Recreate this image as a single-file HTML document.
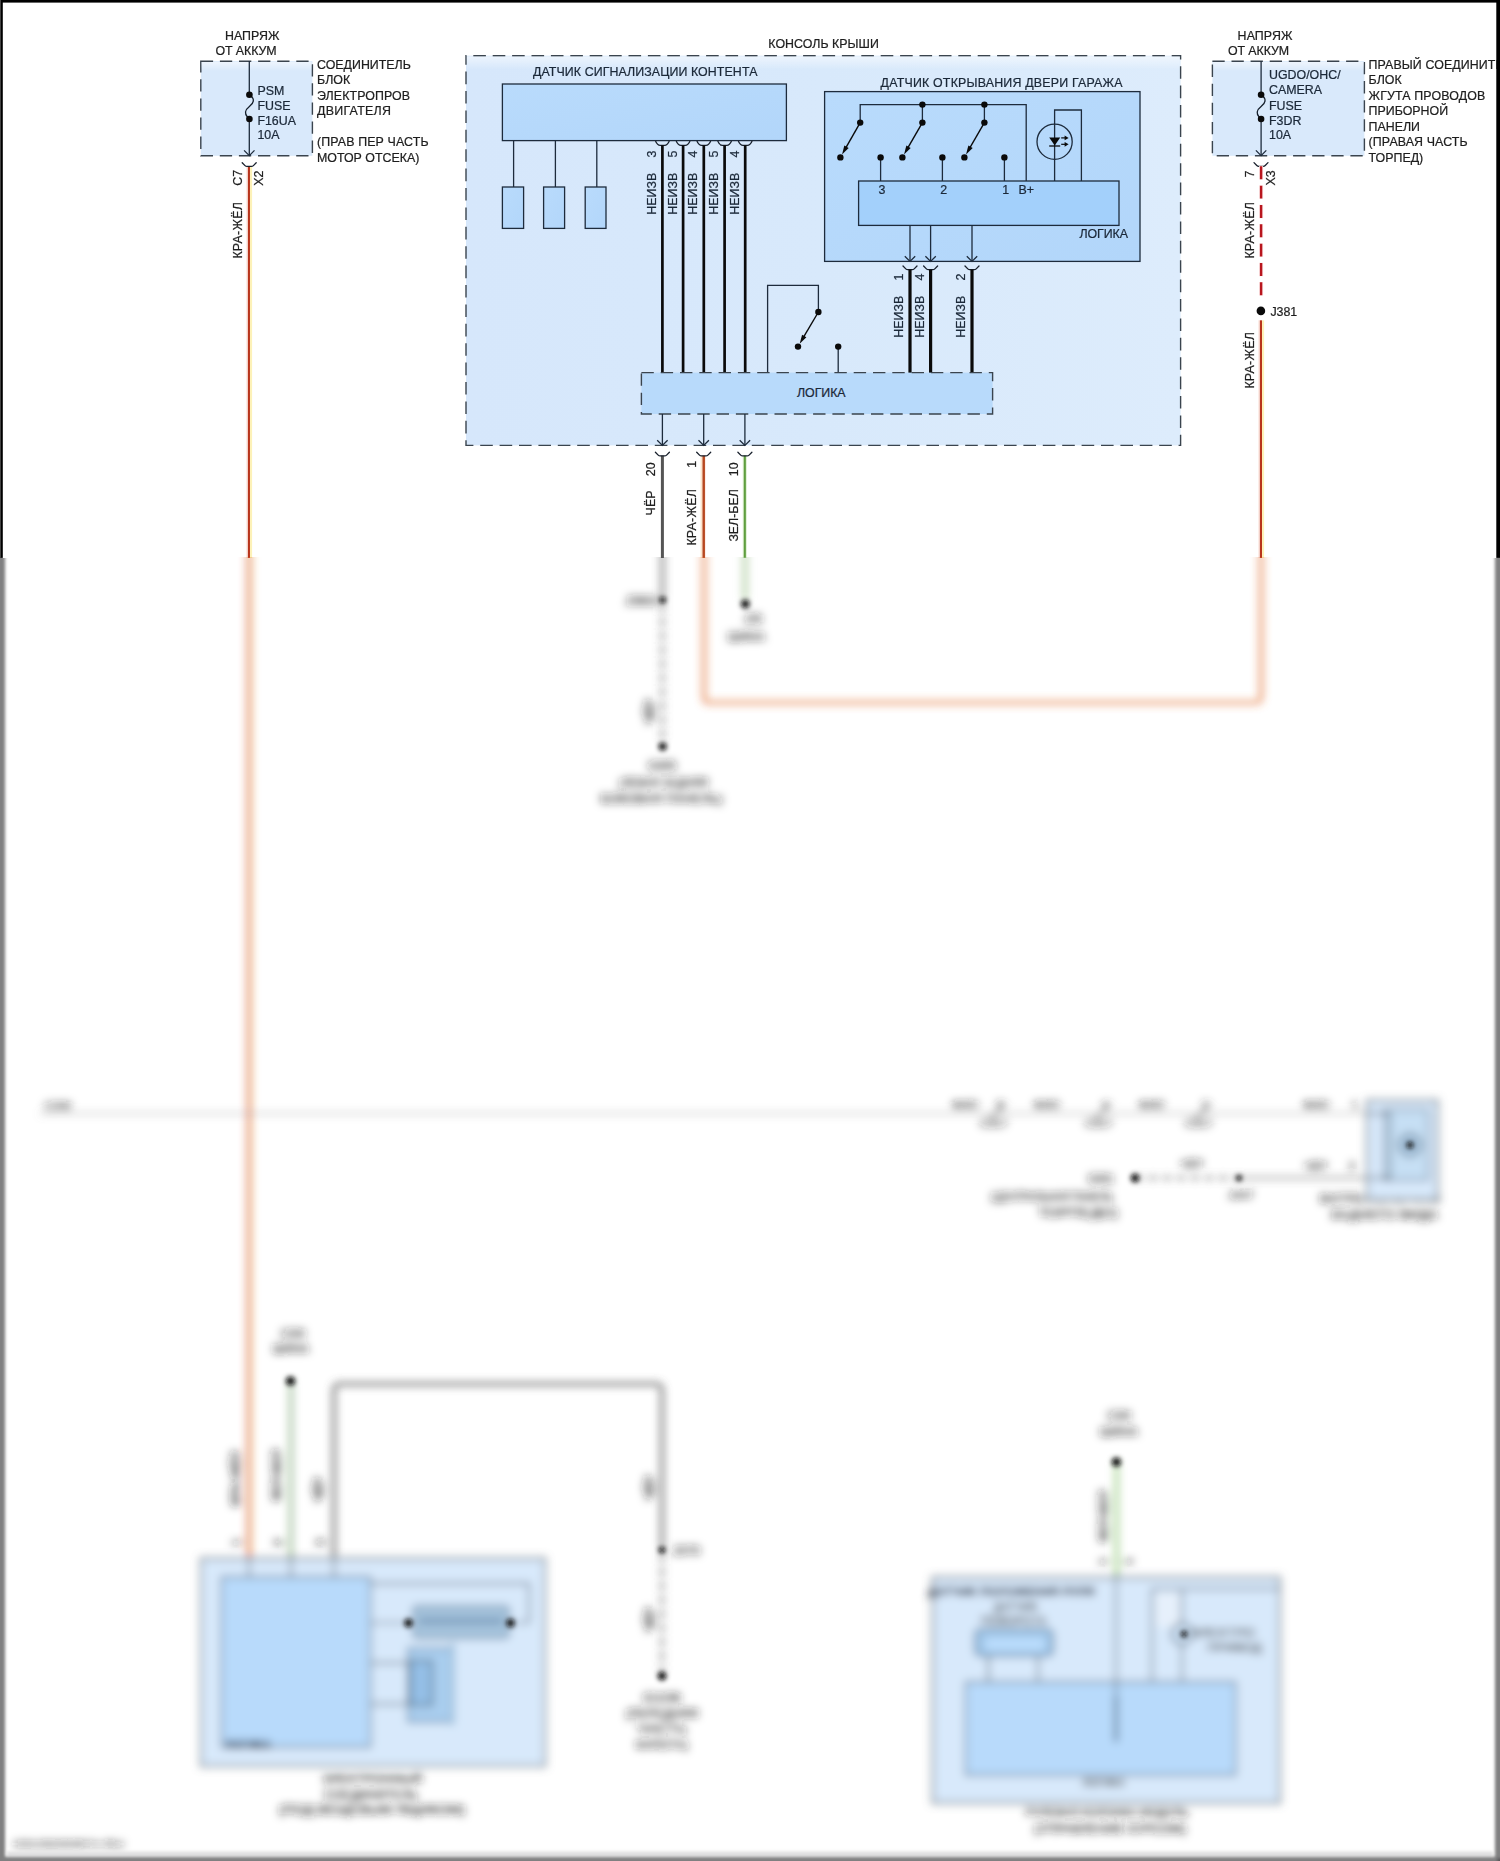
<!DOCTYPE html>
<html><head><meta charset="utf-8"><title>Wiring diagram</title>
<style>html,body{margin:0;padding:0;background:#fff}svg{display:block}text{font-family:"Liberation Sans",sans-serif}</style></head><body>
<svg width="1500" height="1861" viewBox="0 0 1500 1861">
<defs>
<filter id="bl" x="-5%" y="-5%" width="110%" height="110%"><feGaussianBlur stdDeviation="4.1"/></filter>
<filter id="bl2" filterUnits="userSpaceOnUse" x="-30" y="500" width="1560" height="1400"><feGaussianBlur stdDeviation="1.6"/></filter>
<filter id="bl4" x="-5%" y="-5%" width="110%" height="110%"><feGaussianBlur stdDeviation="2.4"/></filter>
<clipPath id="ctop"><rect x="0" y="0" width="1500" height="557.9"/></clipPath>
<clipPath id="cbot"><rect x="0" y="557.9" width="1500" height="1304"/></clipPath>
<linearGradient id="gout" x1="0" y1="0" x2="1" y2="0"><stop offset="0" stop-color="#d6e7fb"/><stop offset="0.5" stop-color="#d8e9fb"/><stop offset="1" stop-color="#ddecfc"/></linearGradient>
<linearGradient id="gin" x1="0" y1="0" x2="1" y2="1"><stop offset="0" stop-color="#b9dbfc"/><stop offset="1" stop-color="#b2d6fa"/></linearGradient>
<linearGradient id="gtop" x1="0" y1="0" x2="0" y2="1"><stop offset="0" stop-color="#fff" stop-opacity=".55"/><stop offset="1" stop-color="#fff" stop-opacity="0"/></linearGradient>
</defs>
<rect width="1500" height="1861" fill="#fff"/>
<g clip-path="url(#ctop)" opacity="0.999">
<rect x="200.8" y="61.2" width="111.6" height="94.6" fill="#d9e9fb" stroke="#3a444e" stroke-width="1.4" stroke-dasharray="12.3 6.8"/>
<rect x="201.6" y="62" width="110" height="9" fill="url(#gtop)"/>
<text x="252.2" y="39.6" font-size="12.4" text-anchor="middle" fill="#1e1e1e" stroke="#1e1e1e" stroke-width=".22" textLength="54.4" lengthAdjust="spacing">НАПРЯЖ</text>
<text x="246" y="55" font-size="12.4" text-anchor="middle" fill="#1e1e1e" stroke="#1e1e1e" stroke-width=".22" textLength="61" lengthAdjust="spacing">ОТ АККУМ</text>
<line x1="249.3" y1="61.2" x2="249.3" y2="155.6" stroke="#1d2b3c" stroke-width="1.3"/>
<path d="M244.10000000000002 150.4 L249.3 155.6 L254.5 150.4" fill="none" stroke="#1d2b3c" stroke-width="1.3"/>
<line x1="249.3" y1="95" x2="249.3" y2="119" stroke="#d9e9fb" stroke-width="2.6"/>
<path d="M250.6 95.6 C254.8 99.4 254 103 249.4 106.6 C244.8 110.2 244.2 113.8 247.8 117.6" fill="none" stroke="#141e2a" stroke-width="1.3"/>
<circle cx="249.4" cy="94.8" r="3.3" fill="#0a0a0a"/>
<circle cx="249.4" cy="119" r="3.3" fill="#0a0a0a"/>
<text x="257.4" y="94.6" font-size="12.4" text-anchor="start" fill="#1b2838" stroke="#1b2838" stroke-width=".22">PSM</text>
<text x="257.4" y="110.0" font-size="12.4" text-anchor="start" fill="#1b2838" stroke="#1b2838" stroke-width=".22">FUSE</text>
<text x="257.4" y="125.39999999999999" font-size="12.4" text-anchor="start" fill="#1b2838" stroke="#1b2838" stroke-width=".22">F16UA</text>
<text x="257.4" y="139.4" font-size="12.4" text-anchor="start" fill="#1b2838" stroke="#1b2838" stroke-width=".22">10A</text>
<text x="317.0" y="69" font-size="12.4" text-anchor="start" fill="#1e1e1e" stroke="#1e1e1e" stroke-width=".22">СОЕДИНИТЕЛЬ</text>
<text x="317.0" y="84.4" font-size="12.4" text-anchor="start" fill="#1e1e1e" stroke="#1e1e1e" stroke-width=".22">БЛОК</text>
<text x="317.0" y="99.8" font-size="12.4" text-anchor="start" fill="#1e1e1e" stroke="#1e1e1e" stroke-width=".22" textLength="93" lengthAdjust="spacing">ЭЛЕКТРОПРОВ</text>
<text x="317.0" y="115.4" font-size="12.4" text-anchor="start" fill="#1e1e1e" stroke="#1e1e1e" stroke-width=".22" textLength="74" lengthAdjust="spacing">ДВИГАТЕЛЯ</text>
<text x="317.0" y="146.4" font-size="12.4" text-anchor="start" fill="#1e1e1e" stroke="#1e1e1e" stroke-width=".22" textLength="111.6" lengthAdjust="spacing">(ПРАВ ПЕР ЧАСТЬ</text>
<text x="317.0" y="161.6" font-size="12.4" text-anchor="start" fill="#1e1e1e" stroke="#1e1e1e" stroke-width=".22">МОТОР ОТСЕКА)</text>
<line x1="246.9" y1="166.6" x2="246.9" y2="560" stroke="#fdebe6" stroke-width="1.6"/>
<line x1="250.9" y1="166.6" x2="250.9" y2="560" stroke="#fdf2b8" stroke-width="2.4"/>
<line x1="248.9" y1="166.6" x2="248.9" y2="560" stroke="#b8341c" stroke-width="2.15"/>
<path d="M242.2 162.7 L245.0 165.6 Q245.79999999999998 166.39999999999998 247.0 166.39999999999998 H251.39999999999998 Q252.6 166.39999999999998 253.39999999999998 165.6 L256.2 162.7" fill="none" stroke="#18202c" stroke-width="1.3" stroke-linecap="round"/>
<text transform="translate(242 185.8) rotate(-90)" font-size="12.4" fill="#1e1e1e" stroke="#1e1e1e" stroke-width=".22">C7</text>
<text transform="translate(263 185.8) rotate(-90)" font-size="12.4" fill="#1e1e1e" stroke="#1e1e1e" stroke-width=".22">X2</text>
<text transform="translate(242.2 258.6) rotate(-90)" font-size="12.4" fill="#1e1e1e" stroke="#1e1e1e" stroke-width=".22" textLength="56.4" lengthAdjust="spacing">КРА-ЖЁЛ</text>
<rect x="466" y="55.7" width="714.6" height="389.7" fill="url(#gout)" stroke="#3a444e" stroke-width="1.4" stroke-dasharray="12.6 6.8" stroke-dashoffset="12.1"/>
<rect x="466.8" y="56.4" width="713" height="13" fill="url(#gtop)"/>
<text x="823.6" y="48" font-size="12.4" text-anchor="middle" fill="#1e1e1e" stroke="#1e1e1e" stroke-width=".22" textLength="110.6" lengthAdjust="spacing">КОНСОЛЬ КРЫШИ</text>
<text x="533" y="76.4" font-size="12.4" text-anchor="start" fill="#1b2838" stroke="#1b2838" stroke-width=".22" textLength="224.4" lengthAdjust="spacing">ДАТЧИК СИГНАЛИЗАЦИИ КОНТЕНТА</text>
<rect x="502.4" y="84" width="284" height="56.6" fill="url(#gin)" stroke="#1d2b3c" stroke-width="1.3"/>
<line x1="513.6" y1="140.6" x2="513.6" y2="187" stroke="#1d2b3c" stroke-width="1.3"/>
<rect x="502.4" y="187" width="21.200000000000045" height="41.4" fill="url(#gin)" stroke="#1d2b3c" stroke-width="1.3"/>
<line x1="555.4" y1="140.6" x2="555.4" y2="187" stroke="#1d2b3c" stroke-width="1.3"/>
<rect x="543.6" y="187" width="21.0" height="41.4" fill="url(#gin)" stroke="#1d2b3c" stroke-width="1.3"/>
<line x1="596.8" y1="140.6" x2="596.8" y2="187" stroke="#1d2b3c" stroke-width="1.3"/>
<rect x="585.2" y="187" width="20.799999999999955" height="41.4" fill="url(#gin)" stroke="#1d2b3c" stroke-width="1.3"/>
<path d="M655.5 141 Q657.4 145.4 660.1999999999999 145.4 H664.6 Q667.4 145.4 669.3 141" fill="none" stroke="#18202c" stroke-width="1.3"/>
<line x1="662.4" y1="145.4" x2="662.4" y2="373" stroke="#0a0a0a" stroke-width="2.7"/>
<text transform="translate(656.0 157.4) rotate(-90)" font-size="12.4" fill="#1b2838" stroke="#1b2838" stroke-width=".22">3</text>
<text transform="translate(656.0 214.8) rotate(-90)" font-size="12.4" fill="#1b2838" stroke="#1b2838" stroke-width=".22" textLength="42.2" lengthAdjust="spacing">НЕИЗВ</text>
<path d="M676.2 141 Q678.1 145.4 680.9 145.4 H685.3000000000001 Q688.1 145.4 690.0 141" fill="none" stroke="#18202c" stroke-width="1.3"/>
<line x1="683.1" y1="145.4" x2="683.1" y2="373" stroke="#0a0a0a" stroke-width="2.7"/>
<text transform="translate(676.7 157.4) rotate(-90)" font-size="12.4" fill="#1b2838" stroke="#1b2838" stroke-width=".22">5</text>
<text transform="translate(676.7 214.8) rotate(-90)" font-size="12.4" fill="#1b2838" stroke="#1b2838" stroke-width=".22" textLength="42.2" lengthAdjust="spacing">НЕИЗВ</text>
<path d="M696.9 141 Q698.8 145.4 701.5999999999999 145.4 H706.0 Q708.8 145.4 710.6999999999999 141" fill="none" stroke="#18202c" stroke-width="1.3"/>
<line x1="703.8" y1="145.4" x2="703.8" y2="373" stroke="#0a0a0a" stroke-width="2.7"/>
<text transform="translate(697.4 157.4) rotate(-90)" font-size="12.4" fill="#1b2838" stroke="#1b2838" stroke-width=".22">4</text>
<text transform="translate(697.4 214.8) rotate(-90)" font-size="12.4" fill="#1b2838" stroke="#1b2838" stroke-width=".22" textLength="42.2" lengthAdjust="spacing">НЕИЗВ</text>
<path d="M717.7 141 Q719.6 145.4 722.4 145.4 H726.8000000000001 Q729.6 145.4 731.5 141" fill="none" stroke="#18202c" stroke-width="1.3"/>
<line x1="724.6" y1="145.4" x2="724.6" y2="373" stroke="#0a0a0a" stroke-width="2.7"/>
<text transform="translate(718.2 157.4) rotate(-90)" font-size="12.4" fill="#1b2838" stroke="#1b2838" stroke-width=".22">5</text>
<text transform="translate(718.2 214.8) rotate(-90)" font-size="12.4" fill="#1b2838" stroke="#1b2838" stroke-width=".22" textLength="42.2" lengthAdjust="spacing">НЕИЗВ</text>
<path d="M738.3000000000001 141 Q740.2 145.4 743.0 145.4 H747.4000000000001 Q750.2 145.4 752.1 141" fill="none" stroke="#18202c" stroke-width="1.3"/>
<line x1="745.2" y1="145.4" x2="745.2" y2="373" stroke="#0a0a0a" stroke-width="2.7"/>
<text transform="translate(738.8000000000001 157.4) rotate(-90)" font-size="12.4" fill="#1b2838" stroke="#1b2838" stroke-width=".22">4</text>
<text transform="translate(738.8000000000001 214.8) rotate(-90)" font-size="12.4" fill="#1b2838" stroke="#1b2838" stroke-width=".22" textLength="42.2" lengthAdjust="spacing">НЕИЗВ</text>
<text x="880.6" y="87" font-size="12.4" text-anchor="start" fill="#1b2838" stroke="#1b2838" stroke-width=".22" textLength="241.8" lengthAdjust="spacing">ДАТЧИК ОТКРЫВАНИЯ ДВЕРИ ГАРАЖА</text>
<rect x="824.6" y="91.6" width="315.4" height="169.8" fill="url(#gin)" stroke="#1d2b3c" stroke-width="1.3"/>
<rect x="858.6" y="181" width="260.4" height="44.4" fill="#a3d0fb" stroke="#1d2b3c" stroke-width="1.3"/>
<path d="M860.2 122.6 V104.6 H1026.2 V181" fill="none" stroke="#1d2b3c" stroke-width="1.3"/>
<line x1="922.4" y1="104.6" x2="922.4" y2="122.6" stroke="#1d2b3c" stroke-width="1.3"/>
<line x1="984.4" y1="104.6" x2="984.4" y2="122.6" stroke="#1d2b3c" stroke-width="1.3"/>
<circle cx="922.4" cy="104.6" r="3.2" fill="#0a0a0a"/>
<circle cx="984.4" cy="104.6" r="3.2" fill="#0a0a0a"/>
<line x1="860.2" y1="122.6" x2="845.4935997673272" y2="148.44761253015236" stroke="#0a0a0a" stroke-width="1.4"/>
<path d="M842.03 154.53 L844.31 145.47 L848.66 147.95 Z" fill="#0a0a0a"/>
<circle cx="860.2" cy="122.6" r="3.2" fill="#0a0a0a"/>
<circle cx="840.4" cy="157.4" r="3.2" fill="#0a0a0a"/>
<line x1="880.6" y1="157.4" x2="880.6" y2="181" stroke="#1d2b3c" stroke-width="1.3"/>
<circle cx="880.6" cy="157.4" r="3.2" fill="#0a0a0a"/>
<line x1="922.4" y1="122.6" x2="907.5323239212905" y2="148.46975637695434" stroke="#0a0a0a" stroke-width="1.4"/>
<path d="M904.04 154.54 L906.36 145.49 L910.70 147.98 Z" fill="#0a0a0a"/>
<circle cx="922.4" cy="122.6" r="3.2" fill="#0a0a0a"/>
<circle cx="902.4" cy="157.4" r="3.2" fill="#0a0a0a"/>
<line x1="942.4" y1="157.4" x2="942.4" y2="181" stroke="#1d2b3c" stroke-width="1.3"/>
<circle cx="942.4" cy="157.4" r="3.2" fill="#0a0a0a"/>
<line x1="984.4" y1="122.6" x2="969.5323239212905" y2="148.46975637695434" stroke="#0a0a0a" stroke-width="1.4"/>
<path d="M966.04 154.54 L968.36 145.49 L972.70 147.98 Z" fill="#0a0a0a"/>
<circle cx="984.4" cy="122.6" r="3.2" fill="#0a0a0a"/>
<circle cx="964.4" cy="157.4" r="3.2" fill="#0a0a0a"/>
<line x1="1004.4" y1="157.4" x2="1004.4" y2="181" stroke="#1d2b3c" stroke-width="1.3"/>
<circle cx="1004.4" cy="157.4" r="3.2" fill="#0a0a0a"/>
<text x="882" y="194" font-size="12.4" text-anchor="middle" fill="#1b2838" stroke="#1b2838" stroke-width=".22">3</text>
<text x="943.8" y="194" font-size="12.4" text-anchor="middle" fill="#1b2838" stroke="#1b2838" stroke-width=".22">2</text>
<text x="1005.8" y="194" font-size="12.4" text-anchor="middle" fill="#1b2838" stroke="#1b2838" stroke-width=".22">1</text>
<text x="1018.6" y="194" font-size="12.4" text-anchor="start" fill="#1b2838" stroke="#1b2838" stroke-width=".22">B+</text>
<text x="1079.4" y="238" font-size="12.4" text-anchor="start" fill="#1b2838" stroke="#1b2838" stroke-width=".22" textLength="48.6" lengthAdjust="spacing">ЛОГИКА</text>
<path d="M1054.6 181 V110 H1081.4 V181" fill="none" stroke="#1d2b3c" stroke-width="1.3"/>
<circle cx="1054.6" cy="141.7" r="17.6" fill="none" stroke="#1d2b3c" stroke-width="1.3"/>
<path d="M1049.2 137.5 H1060.2 L1054.7 145.6 Z" fill="#0a0a0a"/>
<line x1="1049.2" y1="146" x2="1060.2" y2="146" stroke="#0a0a0a" stroke-width="1.3"/>
<line x1="1061.2" y1="137.9" x2="1066" y2="137.9" stroke="#0a0a0a" stroke-width="1.2"/>
<path d="M1068.6 137.9 L1064.6 135.5 L1064.6 140.3 Z" fill="#0a0a0a"/>
<line x1="1061.2" y1="144.3" x2="1066" y2="144.3" stroke="#0a0a0a" stroke-width="1.2"/>
<path d="M1068.6 144.3 L1064.6 141.9 L1064.6 146.70000000000002 Z" fill="#0a0a0a"/>
<line x1="910" y1="225.4" x2="910" y2="261.4" stroke="#1d2b3c" stroke-width="1.3"/>
<path d="M904.8 256.2 L910 261.4 L915.2 256.2" fill="none" stroke="#1d2b3c" stroke-width="1.3"/>
<path d="M903 266 L905.8 268.9 Q906.6 269.7 907.8 269.7 H912.2 Q913.4 269.7 914.2 268.9 L917 266" fill="none" stroke="#18202c" stroke-width="1.3" stroke-linecap="round"/>
<line x1="910" y1="269.6" x2="910" y2="373" stroke="#0a0a0a" stroke-width="3.2"/>
<text transform="translate(903.4 280.6) rotate(-90)" font-size="12.4" fill="#1b2838" stroke="#1b2838" stroke-width=".22">1</text>
<text transform="translate(903.4 337.8) rotate(-90)" font-size="12.4" fill="#1b2838" stroke="#1b2838" stroke-width=".22" textLength="42.2" lengthAdjust="spacing">НЕИЗВ</text>
<line x1="930.6" y1="225.4" x2="930.6" y2="261.4" stroke="#1d2b3c" stroke-width="1.3"/>
<path d="M925.4 256.2 L930.6 261.4 L935.8000000000001 256.2" fill="none" stroke="#1d2b3c" stroke-width="1.3"/>
<path d="M923.6 266 L926.4 268.9 Q927.2 269.7 928.4 269.7 H932.8000000000001 Q934.0 269.7 934.8000000000001 268.9 L937.6 266" fill="none" stroke="#18202c" stroke-width="1.3" stroke-linecap="round"/>
<line x1="930.6" y1="269.6" x2="930.6" y2="373" stroke="#0a0a0a" stroke-width="3.2"/>
<text transform="translate(924.0 280.6) rotate(-90)" font-size="12.4" fill="#1b2838" stroke="#1b2838" stroke-width=".22">4</text>
<text transform="translate(924.0 337.8) rotate(-90)" font-size="12.4" fill="#1b2838" stroke="#1b2838" stroke-width=".22" textLength="42.2" lengthAdjust="spacing">НЕИЗВ</text>
<line x1="972" y1="225.4" x2="972" y2="261.4" stroke="#1d2b3c" stroke-width="1.3"/>
<path d="M966.8 256.2 L972 261.4 L977.2 256.2" fill="none" stroke="#1d2b3c" stroke-width="1.3"/>
<path d="M965 266 L967.8 268.9 Q968.6 269.7 969.8 269.7 H974.2 Q975.4 269.7 976.2 268.9 L979 266" fill="none" stroke="#18202c" stroke-width="1.3" stroke-linecap="round"/>
<line x1="972" y1="269.6" x2="972" y2="373" stroke="#0a0a0a" stroke-width="3.2"/>
<text transform="translate(965.4 280.6) rotate(-90)" font-size="12.4" fill="#1b2838" stroke="#1b2838" stroke-width=".22">2</text>
<text transform="translate(965.4 337.8) rotate(-90)" font-size="12.4" fill="#1b2838" stroke="#1b2838" stroke-width=".22" textLength="42.2" lengthAdjust="spacing">НЕИЗВ</text>
<path d="M767.6 372.6 V285.4 H818.4 V312" fill="none" stroke="#1d2b3c" stroke-width="1.3"/>
<line x1="818.4" y1="312" x2="803.2312699706348" y2="337.7273558341194" stroke="#0a0a0a" stroke-width="1.4"/>
<path d="M799.68 343.76 L802.09 334.73 L806.40 337.27 Z" fill="#0a0a0a"/>
<circle cx="818.4" cy="312" r="3.2" fill="#0a0a0a"/>
<circle cx="798" cy="346.6" r="3.2" fill="#0a0a0a"/>
<line x1="838.2" y1="346.6" x2="838.2" y2="372.6" stroke="#1d2b3c" stroke-width="1.3"/>
<circle cx="838.2" cy="346.6" r="3.2" fill="#0a0a0a"/>
<rect x="641.4" y="372.6" width="351.2" height="41.4" fill="#b8dafb" stroke="#3a444e" stroke-width="1.4" stroke-dasharray="12.4 6.9"/>
<text x="821.3" y="397.4" font-size="12.4" text-anchor="middle" fill="#1b2838" stroke="#1b2838" stroke-width=".22" textLength="48.6" lengthAdjust="spacing">ЛОГИКА</text>
<line x1="662.4" y1="455.6" x2="662.4" y2="560" stroke="#555555" stroke-width="3.0"/>
<line x1="701.5" y1="455.6" x2="701.5" y2="560" stroke="#fde6cc" stroke-width="1.8"/>
<line x1="705.4" y1="455.6" x2="705.4" y2="560" stroke="#fdebe6" stroke-width="1.0"/>
<line x1="703.7" y1="455.6" x2="703.7" y2="560" stroke="#b8481f" stroke-width="2.5"/>
<line x1="744.8" y1="455.6" x2="744.8" y2="560" stroke="#dff0d4" stroke-width="4.2"/>
<line x1="744.8" y1="455.6" x2="744.8" y2="560" stroke="#5f9e3e" stroke-width="2.1"/>
<line x1="662.4" y1="414" x2="662.4" y2="445.4" stroke="#1d2b3c" stroke-width="1.3"/>
<path d="M657.1999999999999 440.2 L662.4 445.4 L667.6 440.2" fill="none" stroke="#1d2b3c" stroke-width="1.3"/>
<path d="M655.4 452.2 L658.1999999999999 455.09999999999997 Q659.0 455.9 660.1999999999999 455.9 H664.6 Q665.8 455.9 666.6 455.09999999999997 L669.4 452.2" fill="none" stroke="#18202c" stroke-width="1.3" stroke-linecap="round"/>
<line x1="703.7" y1="414" x2="703.7" y2="445.4" stroke="#1d2b3c" stroke-width="1.3"/>
<path d="M698.5 440.2 L703.7 445.4 L708.9000000000001 440.2" fill="none" stroke="#1d2b3c" stroke-width="1.3"/>
<path d="M696.7 452.2 L699.5 455.09999999999997 Q700.3000000000001 455.9 701.5 455.9 H705.9000000000001 Q707.1 455.9 707.9000000000001 455.09999999999997 L710.7 452.2" fill="none" stroke="#18202c" stroke-width="1.3" stroke-linecap="round"/>
<line x1="744.9" y1="414" x2="744.9" y2="445.4" stroke="#1d2b3c" stroke-width="1.3"/>
<path d="M739.6999999999999 440.2 L744.9 445.4 L750.1 440.2" fill="none" stroke="#1d2b3c" stroke-width="1.3"/>
<path d="M737.9 452.2 L740.6999999999999 455.09999999999997 Q741.5 455.9 742.6999999999999 455.9 H747.1 Q748.3 455.9 749.1 455.09999999999997 L751.9 452.2" fill="none" stroke="#18202c" stroke-width="1.3" stroke-linecap="round"/>
<text transform="translate(655.2 476.2) rotate(-90)" font-size="12.4" fill="#1e1e1e" stroke="#1e1e1e" stroke-width=".22">20</text>
<text transform="translate(696.2 467.8) rotate(-90)" font-size="12.4" fill="#1e1e1e" stroke="#1e1e1e" stroke-width=".22">1</text>
<text transform="translate(737.9 476.2) rotate(-90)" font-size="12.4" fill="#1e1e1e" stroke="#1e1e1e" stroke-width=".22">10</text>
<text transform="translate(655.2 515.4) rotate(-90)" font-size="12.4" fill="#1e1e1e" stroke="#1e1e1e" stroke-width=".22" textLength="25" lengthAdjust="spacing">ЧЁР</text>
<text transform="translate(696.4 545.6) rotate(-90)" font-size="12.4" fill="#1e1e1e" stroke="#1e1e1e" stroke-width=".22" textLength="56.4" lengthAdjust="spacing">КРА-ЖЁЛ</text>
<text transform="translate(737.9 541.6) rotate(-90)" font-size="12.4" fill="#1e1e1e" stroke="#1e1e1e" stroke-width=".22" textLength="52.4" lengthAdjust="spacing">ЗЕЛ-БЕЛ</text>
<rect x="1212.4" y="61.2" width="152" height="94.6" fill="#d9e9fb" stroke="#3a444e" stroke-width="1.4" stroke-dasharray="12.3 6.8"/>
<rect x="1213.2" y="62" width="150.4" height="9" fill="url(#gtop)"/>
<text x="1265" y="39.6" font-size="12.4" text-anchor="middle" fill="#1e1e1e" stroke="#1e1e1e" stroke-width=".22" textLength="54.8" lengthAdjust="spacing">НАПРЯЖ</text>
<text x="1258.5" y="55" font-size="12.4" text-anchor="middle" fill="#1e1e1e" stroke="#1e1e1e" stroke-width=".22" textLength="61" lengthAdjust="spacing">ОТ АККУМ</text>
<line x1="1261.1" y1="61.2" x2="1261.1" y2="155.6" stroke="#1d2b3c" stroke-width="1.3"/>
<path d="M1255.8999999999999 150.4 L1261.1 155.6 L1266.3 150.4" fill="none" stroke="#1d2b3c" stroke-width="1.3"/>
<line x1="1261.1" y1="95" x2="1261.1" y2="119" stroke="#d9e9fb" stroke-width="2.6"/>
<path d="M1262.3 95.6 C1266.5 99.4 1265.7 103 1261.1 106.6 C1256.5 110.2 1255.9 113.8 1259.5 117.6" fill="none" stroke="#141e2a" stroke-width="1.3"/>
<circle cx="1261.1" cy="94.8" r="3.3" fill="#0a0a0a"/>
<circle cx="1261.1" cy="119" r="3.3" fill="#0a0a0a"/>
<text x="1269.0" y="78.6" font-size="12.4" text-anchor="start" fill="#1b2838" stroke="#1b2838" stroke-width=".22">UGDO/OHC/</text>
<text x="1269.0" y="94.2" font-size="12.4" text-anchor="start" fill="#1b2838" stroke="#1b2838" stroke-width=".22">CAMERA</text>
<text x="1269.0" y="109.6" font-size="12.4" text-anchor="start" fill="#1b2838" stroke="#1b2838" stroke-width=".22">FUSE</text>
<text x="1269.0" y="125" font-size="12.4" text-anchor="start" fill="#1b2838" stroke="#1b2838" stroke-width=".22">F3DR</text>
<text x="1269.0" y="139" font-size="12.4" text-anchor="start" fill="#1b2838" stroke="#1b2838" stroke-width=".22">10A</text>
<text x="1368.6" y="69" font-size="12.4" text-anchor="start" fill="#1e1e1e" stroke="#1e1e1e" stroke-width=".22" textLength="180.6" lengthAdjust="spacing">ПРАВЫЙ СОЕДИНИТЕЛЬНЫЙ</text>
<text x="1368.6" y="84.4" font-size="12.4" text-anchor="start" fill="#1e1e1e" stroke="#1e1e1e" stroke-width=".22">БЛОК</text>
<text x="1368.6" y="99.6" font-size="12.4" text-anchor="start" fill="#1e1e1e" stroke="#1e1e1e" stroke-width=".22" textLength="116.6" lengthAdjust="spacing">ЖГУТА ПРОВОДОВ</text>
<text x="1368.6" y="115.4" font-size="12.4" text-anchor="start" fill="#1e1e1e" stroke="#1e1e1e" stroke-width=".22">ПРИБОРНОЙ</text>
<text x="1368.6" y="130.6" font-size="12.4" text-anchor="start" fill="#1e1e1e" stroke="#1e1e1e" stroke-width=".22">ПАНЕЛИ</text>
<text x="1368.6" y="146.4" font-size="12.4" text-anchor="start" fill="#1e1e1e" stroke="#1e1e1e" stroke-width=".22" textLength="99" lengthAdjust="spacing">(ПРАВАЯ ЧАСТЬ</text>
<text x="1368.6" y="161.6" font-size="12.4" text-anchor="start" fill="#1e1e1e" stroke="#1e1e1e" stroke-width=".22">ТОРПЕД)</text>
<path d="M1254 162.6 L1256.8 165.5 Q1257.6 166.29999999999998 1258.8 166.29999999999998 H1263.2 Q1264.4 166.29999999999998 1265.2 165.5 L1268 162.6" fill="none" stroke="#18202c" stroke-width="1.3" stroke-linecap="round"/>
<line x1="1261.1" y1="166.0" x2="1261.1" y2="296.2" stroke="#fbe1e1" stroke-width="4.0" stroke-dasharray="13.5 5.84"/>
<line x1="1261.1" y1="166.3" x2="1261.1" y2="296" stroke="#b8161e" stroke-width="2.4" stroke-dasharray="12.9 6.44"/>
<text transform="translate(1253.6 177.4) rotate(-90)" font-size="12.4" fill="#1e1e1e" stroke="#1e1e1e" stroke-width=".22">7</text>
<text transform="translate(1275.2 185.6) rotate(-90)" font-size="12.4" fill="#1e1e1e" stroke="#1e1e1e" stroke-width=".22">X3</text>
<text transform="translate(1254.3 258.6) rotate(-90)" font-size="12.4" fill="#1e1e1e" stroke="#1e1e1e" stroke-width=".22" textLength="56.4" lengthAdjust="spacing">КРА-ЖЁЛ</text>
<circle cx="1260.9" cy="310.9" r="4.3" fill="#0a0a0a"/>
<text x="1270.4" y="315.7" font-size="12.4" text-anchor="start" fill="#1e1e1e" stroke="#1e1e1e" stroke-width=".22">J381</text>
<line x1="1258.9" y1="320.3" x2="1258.9" y2="560" stroke="#fdebe6" stroke-width="1.6"/>
<line x1="1262.9" y1="320.3" x2="1262.9" y2="560" stroke="#fdf2b8" stroke-width="2.4"/>
<line x1="1260.9" y1="320.3" x2="1260.9" y2="560" stroke="#b8341c" stroke-width="2.15"/>
<text transform="translate(1254.3 388.6) rotate(-90)" font-size="12.4" fill="#1e1e1e" stroke="#1e1e1e" stroke-width=".22" textLength="56.4" lengthAdjust="spacing">КРА-ЖЁЛ</text>
</g>
<g clip-path="url(#cbot)"><g filter="url(#bl)">
<line x1="249.0" y1="540" x2="249.0" y2="1566" stroke="#d23a1c" stroke-width="2.8"/>
<line x1="250.6" y1="540" x2="250.6" y2="1566" stroke="#f3b050" stroke-width="1.2"/>
<line x1="662.4" y1="540" x2="662.4" y2="600" stroke="#505050" stroke-width="2.8"/>
<text x="657" y="604.5" font-size="12.4" text-anchor="end" fill="#222" stroke="#222" stroke-width=".22" textLength="32" lengthAdjust="spacingAndGlyphs">J363</text>
<line x1="662.4" y1="604" x2="662.4" y2="742" stroke="#505050" stroke-width="2.6" stroke-dasharray="8 6"/>
<text transform="translate(654 724) rotate(-90)" font-size="12.4" fill="#222" stroke="#222" stroke-width=".32">ЧЁР</text>
<text x="662" y="769.5" font-size="12.4" text-anchor="middle" fill="#222" stroke="#222" stroke-width=".22" textLength="28" lengthAdjust="spacingAndGlyphs">G305</text>
<text x="663.5" y="787" font-size="12.4" text-anchor="middle" fill="#222" stroke="#222" stroke-width=".22" textLength="89" lengthAdjust="spacingAndGlyphs">(ЛЕВАЯ ЗАДНЯЯ</text>
<text x="661.5" y="803" font-size="12.4" text-anchor="middle" fill="#222" stroke="#222" stroke-width=".22" textLength="122" lengthAdjust="spacingAndGlyphs">БОКОВАЯ ПАНЕЛЬ)</text>
<path d="M704 540 V697.5 Q704 702.5 709 702.5 H1256 Q1261 702.5 1261 697.5 V540" fill="none" stroke="#dd5522" stroke-width="2.7"/>
<path d="M705 540 V697 Q705 701.8 710 701.8 H1257 Q1262 701.8 1262 697 V540" fill="none" stroke="#eea050" stroke-width="1.0"/>
<line x1="745.0" y1="540" x2="745.0" y2="600" stroke="#5f9e3e" stroke-width="2.1"/>
<line x1="745" y1="540" x2="745" y2="600" stroke="#dff0d4" stroke-width="4.2"/>
<line x1="745.0" y1="540" x2="745.0" y2="600" stroke="#5f9e3e" stroke-width="2.1"/>
<text x="753" y="623" font-size="12.4" text-anchor="middle" fill="#222" stroke="#222" stroke-width=".22" textLength="18" lengthAdjust="spacingAndGlyphs">J26</text>
<text x="746.5" y="640.5" font-size="12.4" text-anchor="middle" fill="#222" stroke="#222" stroke-width=".22" textLength="37" lengthAdjust="spacingAndGlyphs">ШИНА</text>
<line x1="40" y1="1113.5" x2="1368" y2="1113.5" stroke="#808080" stroke-width="1.1"/>
<text x="58" y="1109.5" font-size="11" text-anchor="middle" fill="#222" stroke="#222" stroke-width=".22">C200</text>
<text x="965" y="1109" font-size="11.5" text-anchor="middle" fill="#222" stroke="#222" stroke-width=".22">ФИО</text>
<text x="1000" y="1109" font-size="11.5" text-anchor="middle" fill="#222" stroke="#222" stroke-width=".22">8</text>
<text x="1046.5" y="1109" font-size="11.5" text-anchor="middle" fill="#222" stroke="#222" stroke-width=".22">ФИО</text>
<text x="1105" y="1109" font-size="11.5" text-anchor="middle" fill="#222" stroke="#222" stroke-width=".22">4</text>
<text x="1151.5" y="1109" font-size="11.5" text-anchor="middle" fill="#222" stroke="#222" stroke-width=".22">ФИО</text>
<text x="1205" y="1109" font-size="11.5" text-anchor="middle" fill="#222" stroke="#222" stroke-width=".22">2</text>
<text x="1316" y="1109" font-size="11.5" text-anchor="middle" fill="#222" stroke="#222" stroke-width=".22">ФИО</text>
<text x="1355" y="1109" font-size="11.5" text-anchor="middle" fill="#222" stroke="#222" stroke-width=".22">1</text>
<line x1="1006" y1="1104" x2="989" y2="1120" stroke="#555" stroke-width="1.6"/>
<text x="994" y="1127" font-size="11.5" text-anchor="middle" fill="#222" stroke="#222" stroke-width=".22">C317</text>
<line x1="1111" y1="1104" x2="1094" y2="1120" stroke="#555" stroke-width="1.6"/>
<text x="1099" y="1127" font-size="11.5" text-anchor="middle" fill="#222" stroke="#222" stroke-width=".22">C317</text>
<line x1="1211" y1="1104" x2="1194" y2="1120" stroke="#555" stroke-width="1.6"/>
<text x="1199" y="1127" font-size="11.5" text-anchor="middle" fill="#222" stroke="#222" stroke-width=".22">C317</text>
<line x1="1135" y1="1178" x2="1239" y2="1178" stroke="#606060" stroke-width="2.4" stroke-dasharray="8 6"/>
<line x1="1239" y1="1178" x2="1368" y2="1178" stroke="#505050" stroke-width="1.6"/>
<text x="1192" y="1168" font-size="11.5" text-anchor="middle" fill="#222" stroke="#222" stroke-width=".22">ЧЁР</text>
<text x="1316" y="1170" font-size="11.5" text-anchor="middle" fill="#222" stroke="#222" stroke-width=".22">ЧЁР</text>
<text x="1352" y="1170" font-size="11.5" text-anchor="middle" fill="#222" stroke="#222" stroke-width=".22">2</text>
<text x="1114" y="1182.5" font-size="12.4" text-anchor="end" fill="#222" stroke="#222" stroke-width=".22" textLength="26" lengthAdjust="spacingAndGlyphs">G301</text>
<text x="1113" y="1200.5" font-size="12.4" text-anchor="end" fill="#222" stroke="#222" stroke-width=".22" textLength="122" lengthAdjust="spacingAndGlyphs">(ЦЕНТРАЛЬНАЯ ПАНЕЛЬ</text>
<text x="1118" y="1216.5" font-size="12.4" text-anchor="end" fill="#222" stroke="#222" stroke-width=".22" textLength="80" lengthAdjust="spacingAndGlyphs">ТОРПЕДО)</text>
<text x="1241" y="1198.5" font-size="11.5" text-anchor="middle" fill="#222" stroke="#222" stroke-width=".22" textLength="26" lengthAdjust="spacingAndGlyphs">J347</text>
<text x="1380" y="1202.5" font-size="12.4" text-anchor="middle" fill="#222" stroke="#222" stroke-width=".22" textLength="120" lengthAdjust="spacingAndGlyphs">ВНУТРЕННЕЕ ЗЕРКАЛО</text>
<text x="1384" y="1218.5" font-size="12.4" text-anchor="middle" fill="#222" stroke="#222" stroke-width=".22" textLength="108" lengthAdjust="spacingAndGlyphs">ЗАДНЕГО ВИДА</text>
<rect x="1367" y="1100.5" width="70.5" height="99" fill="#d8e9fb" stroke="#46525e" stroke-width="2.0"/>
<rect x="1384" y="1110" width="44" height="70" fill="#c6dff4" stroke="#1d2b3c" stroke-width="1.0"/>
<path d="M1367 1113.5 H1390 V1178 H1367" fill="none" stroke="#1d2b3c" stroke-width="1.4"/>
<circle cx="1410" cy="1145" r="11" fill="#abc9e3" stroke="#1d2b3c" stroke-width="1.4"/>
<text x="293" y="1337.5" font-size="12.4" text-anchor="middle" fill="#222" stroke="#222" stroke-width=".22" textLength="24" lengthAdjust="spacingAndGlyphs">C200</text>
<text x="291" y="1353" font-size="12.4" text-anchor="middle" fill="#222" stroke="#222" stroke-width=".22" textLength="36" lengthAdjust="spacingAndGlyphs">ШИНА</text>
<line x1="291" y1="1381" x2="291" y2="1562" stroke="#6f9a6c" stroke-width="3.0"/>
<line x1="290" y1="1381" x2="290" y2="1562" stroke="#b5d6a8" stroke-width="0.9"/>
<path d="M334 1562 V1390 Q334 1384 340 1384 H656 Q662 1384 662 1390 V1550" fill="none" stroke="#555" stroke-width="3.2"/>
<text transform="translate(240 1506) rotate(-90)" font-size="12.4" fill="#222" stroke="#222" stroke-width=".32">КРА-ЖЁЛ</text>
<text transform="translate(281 1502) rotate(-90)" font-size="12.4" fill="#222" stroke="#222" stroke-width=".32">ЗЕЛ-БЕЛ</text>
<text transform="translate(323 1502) rotate(-90)" font-size="12.4" fill="#222" stroke="#222" stroke-width=".32">ЧЁР</text>
<text transform="translate(654 1500) rotate(-90)" font-size="12.4" fill="#222" stroke="#222" stroke-width=".32">ЧЁР</text>
<text transform="translate(241 1546) rotate(-90)" font-size="12.4" fill="#222" stroke="#222" stroke-width=".32">1</text>
<text transform="translate(283 1546) rotate(-90)" font-size="12.4" fill="#222" stroke="#222" stroke-width=".32">2</text>
<text transform="translate(325 1546) rotate(-90)" font-size="12.4" fill="#222" stroke="#222" stroke-width=".32">3</text>
<text x="672" y="1554.5" font-size="12.4" text-anchor="start" fill="#222" stroke="#222" stroke-width=".22" textLength="28" lengthAdjust="spacingAndGlyphs">J370</text>
<line x1="662" y1="1554" x2="662" y2="1672" stroke="#505050" stroke-width="2.6" stroke-dasharray="8 6"/>
<text transform="translate(654 1632) rotate(-90)" font-size="12.4" fill="#222" stroke="#222" stroke-width=".32">ЧЁР</text>
<text x="662" y="1702" font-size="12.4" text-anchor="middle" fill="#222" stroke="#222" stroke-width=".22" textLength="38" lengthAdjust="spacingAndGlyphs">G106</text>
<text x="662" y="1717.5" font-size="12.4" text-anchor="middle" fill="#222" stroke="#222" stroke-width=".22" textLength="72" lengthAdjust="spacingAndGlyphs">(ПЕРЕДНЯЯ</text>
<text x="662" y="1733" font-size="12.4" text-anchor="middle" fill="#222" stroke="#222" stroke-width=".22" textLength="50" lengthAdjust="spacingAndGlyphs">ЧАСТЬ</text>
<text x="662" y="1748.5" font-size="12.4" text-anchor="middle" fill="#222" stroke="#222" stroke-width=".22" textLength="52" lengthAdjust="spacingAndGlyphs">КАПОТА)</text>
<rect x="201" y="1558.5" width="344" height="207.5" fill="#d8e9fb" stroke="#46525e" stroke-width="2.0"/>
<rect x="221.5" y="1577" width="149" height="170" fill="#b8dafb" stroke="#1d2b3c" stroke-width="1.3"/>
<line x1="249.2" y1="1558" x2="249.2" y2="1577" stroke="#1d2b3c" stroke-width="1.6"/>
<line x1="291" y1="1558" x2="291" y2="1577" stroke="#1d2b3c" stroke-width="1.6"/>
<line x1="334" y1="1558" x2="334" y2="1577" stroke="#1d2b3c" stroke-width="1.6"/>
<path d="M370.5 1583.5 H529 V1622.6 H511" fill="none" stroke="#1d2b3c" stroke-width="1.4"/>
<line x1="370.5" y1="1622.6" x2="409" y2="1622.6" stroke="#1d2b3c" stroke-width="1.4"/>
<rect x="413" y="1606" width="96" height="32" rx="4" fill="#a8c6df" stroke="#3a5a78" stroke-width="1.4"/>
<rect x="419" y="1616" width="84" height="10" fill="#88a9c6"/>
<line x1="370.5" y1="1663" x2="410" y2="1663" stroke="#1d2b3c" stroke-width="1.4"/>
<line x1="370.5" y1="1704" x2="410" y2="1704" stroke="#1d2b3c" stroke-width="1.4"/>
<rect x="408" y="1648" width="46" height="74" fill="#a9cdee" stroke="#3a5a78" stroke-width="1.3"/>
<rect x="410" y="1661" width="22" height="44" fill="#94bfe6" stroke="#1d2b3c" stroke-width="1.4"/>
<line x1="452.5" y1="1643" x2="452.5" y2="1725" stroke="#a3c3de" stroke-width="5"/>
<text x="225" y="1749" font-size="12.4" text-anchor="start" fill="#0c1830" stroke="#0c1830" stroke-width=".22" textLength="46" lengthAdjust="spacingAndGlyphs" font-weight="bold">ЛОГИКА</text>
<text x="372" y="1782.5" font-size="12.4" text-anchor="middle" fill="#222" stroke="#222" stroke-width=".22" textLength="100" lengthAdjust="spacingAndGlyphs">ЭЛЕКТРОННЫЙ</text>
<text x="371" y="1798.5" font-size="12.4" text-anchor="middle" fill="#222" stroke="#222" stroke-width=".22" textLength="94" lengthAdjust="spacingAndGlyphs">СОЕДИНИТЕЛЬ</text>
<text x="372" y="1813.5" font-size="12.4" text-anchor="middle" fill="#222" stroke="#222" stroke-width=".22" textLength="186" lengthAdjust="spacingAndGlyphs">(ПОД ВЕЩЕВЫМ ЯЩИКОМ)</text>
<text x="1119" y="1419.5" font-size="12.4" text-anchor="middle" fill="#222" stroke="#222" stroke-width=".22" textLength="23" lengthAdjust="spacingAndGlyphs">C200</text>
<text x="1119" y="1436" font-size="12.4" text-anchor="middle" fill="#222" stroke="#222" stroke-width=".22" textLength="38" lengthAdjust="spacingAndGlyphs">ШИНА</text>
<line x1="1116.6" y1="1462" x2="1116.6" y2="1577" stroke="#5fae3c" stroke-width="2.6"/>
<line x1="1115.4" y1="1462" x2="1115.4" y2="1577" stroke="#b5e09c" stroke-width="1.0"/>
<text transform="translate(1108 1543) rotate(-90)" font-size="12.4" fill="#222" stroke="#222" stroke-width=".32">ЗЕЛ-БЕЛ</text>
<text transform="translate(1108 1565) rotate(-90)" font-size="12.4" fill="#222" stroke="#222" stroke-width=".32">1</text>
<text transform="translate(1132 1565) rotate(-90)" font-size="12.4" fill="#222" stroke="#222" stroke-width=".32">1</text>
<rect x="932.7" y="1577.4" width="347" height="225.4" fill="#d8e9fb" stroke="#46525e" stroke-width="2.0"/>
<rect x="965.6" y="1682" width="270" height="93" fill="#b8dafb" stroke="#1d2b3c" stroke-width="1.3"/>
<text x="928" y="1596" font-size="12.4" text-anchor="start" fill="#0c1830" stroke="#0c1830" stroke-width=".22" textLength="167" lengthAdjust="spacingAndGlyphs" font-weight="bold">ДАТЧИК ПОЛОЖЕНИЯ РУЛЯ</text>
<text x="1015.6" y="1611" font-size="12.4" text-anchor="middle" fill="#222" stroke="#222" stroke-width=".22" textLength="44" lengthAdjust="spacingAndGlyphs">ДАТЧИК</text>
<text x="1013.7" y="1625" font-size="12.4" text-anchor="middle" fill="#222" stroke="#222" stroke-width=".22" textLength="66" lengthAdjust="spacingAndGlyphs">ПОВОРОТА</text>
<rect x="975" y="1629" width="78" height="27" rx="5" fill="#9fc4e6" stroke="#3a5a78" stroke-width="1.6"/>
<rect x="985" y="1637" width="60" height="14" rx="3" fill="#b9dcfc"/>
<line x1="988.4" y1="1656" x2="988.4" y2="1682" stroke="#1d2b3c" stroke-width="1.6"/>
<line x1="1037.8" y1="1656" x2="1037.8" y2="1682" stroke="#1d2b3c" stroke-width="1.6"/>
<line x1="1116" y1="1577" x2="1116" y2="1742" stroke="#1d2b3c" stroke-width="1.4"/>
<line x1="1116" y1="1696" x2="1116" y2="1742" stroke="#39536d" stroke-width="3.0"/>
<path d="M1152 1682 V1588.7 H1280" fill="none" stroke="#1d2b3c" stroke-width="1.4"/>
<line x1="1182" y1="1588.7" x2="1182" y2="1682" stroke="#1d2b3c" stroke-width="1.4"/>
<rect x="1155.5" y="1593" width="24" height="34" fill="#e6f0fb"/>
<circle cx="1182" cy="1634" r="10.5" fill="#c9def2" stroke="#1d2b3c" stroke-width="1.4"/>
<text x="1190" y="1636.5" font-size="12.4" text-anchor="start" fill="#222" stroke="#222" stroke-width=".22" textLength="65" lengthAdjust="spacingAndGlyphs">ЭЛЕКТРО</text>
<text x="1207" y="1651.5" font-size="12.4" text-anchor="start" fill="#222" stroke="#222" stroke-width=".22" textLength="55" lengthAdjust="spacingAndGlyphs">ПРИВОД</text>
<text x="1103.5" y="1787" font-size="12.4" text-anchor="middle" fill="#222" stroke="#222" stroke-width=".22" textLength="43" lengthAdjust="spacingAndGlyphs">ЛОГИКА</text>
<text x="1107" y="1816" font-size="12.4" text-anchor="middle" fill="#222" stroke="#222" stroke-width=".22" textLength="163" lengthAdjust="spacingAndGlyphs">РУЛЕВАЯ КОЛОНКА МОДУЛЬ</text>
<text x="1110" y="1832.5" font-size="12.4" text-anchor="middle" fill="#222" stroke="#222" stroke-width=".22" textLength="152" lengthAdjust="spacingAndGlyphs">(УПРАВЛЕНИЕ КУРСОМ)</text>
<text x="14" y="1846.5" font-size="9.5" text-anchor="start" fill="#222" stroke="#222" stroke-width=".22" textLength="110" lengthAdjust="spacingAndGlyphs">0312503087A-RU</text>
</g></g>
<g clip-path="url(#cbot)"><g filter="url(#bl4)">
<circle cx="662.6" cy="600" r="3.36" fill="#0a0a0a"/>
<circle cx="662.6" cy="746.5" r="3.99" fill="#0a0a0a"/>
<circle cx="745.3" cy="604" r="4.41" fill="#0a0a0a"/>
<circle cx="1135" cy="1178" r="4.20" fill="#0a0a0a"/>
<circle cx="1239" cy="1178" r="2.94" fill="#0a0a0a"/>
<circle cx="1410" cy="1145" r="3.57" fill="#0a0a0a"/>
<circle cx="290.5" cy="1381" r="4.62" fill="#0a0a0a"/>
<circle cx="662" cy="1550" r="3.36" fill="#0a0a0a"/>
<circle cx="662" cy="1676" r="4.41" fill="#0a0a0a"/>
<circle cx="408.5" cy="1623" r="4.20" fill="#0a0a0a"/>
<circle cx="510.5" cy="1623" r="4.20" fill="#0a0a0a"/>
<circle cx="1116.4" cy="1462" r="4.62" fill="#0a0a0a"/>
<circle cx="1184" cy="1634" r="3.36" fill="#0a0a0a"/>
</g></g>
<g clip-path="url(#cbot)"><g filter="url(#bl2)">
<rect x="-4.9" y="520" width="1509.8" height="1346.7" fill="none" stroke="#808081" stroke-width="20"/>
<rect x="7" y="1851.4" width="1486" height="4.6" fill="#e0e0e1"/>
<rect x="1497" y="1858" width="10" height="10" fill="#5a565a"/>
</g></g>
<rect x="0" y="0" width="1500" height="2.6" fill="#000"/>
<rect x="0" y="0" width="2.8" height="557.9" fill="#000"/>
<rect x="0" y="0" width="1" height="557.9" fill="#444"/>
<rect x="1496.3" y="0" width="3.7" height="557.9" fill="#000"/>
</svg></body></html>
